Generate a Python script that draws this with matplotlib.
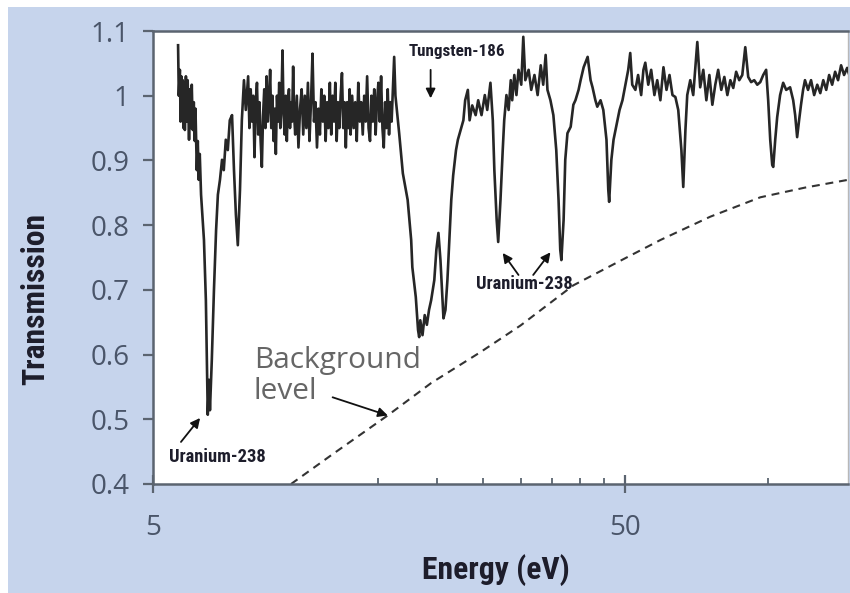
import os
import matplotlib
matplotlib.use('Agg')
import matplotlib.pyplot as plt
from matplotlib import font_manager as fm
from matplotlib.font_manager import FontProperties
from matplotlib.ticker import FixedLocator, FixedFormatter, NullFormatter
from matplotlib.patches import Rectangle

# ---------------- data ----------------
# first U-238 resonance region (~6.5 eV)
first_dip_energy = [
    5.65, 5.67, 5.70, 5.72, 5.74, 5.76, 5.78, 5.80, 5.82, 5.84, 5.87, 5.90, 5.92, 5.94,
    5.96, 5.99, 6.02, 6.04, 6.07, 6.10, 6.13, 6.15, 6.19, 6.22, 6.25, 6.28, 6.32, 6.41,
    6.47, 6.50, 6.53, 6.57, 6.60, 6.66, 6.73, 6.80, 6.86, 6.93, 7.00, 7.06, 7.13, 7.20,
    7.27, 7.35, 7.42, 7.49, 7.56, 7.64, 7.71, 7.79, 7.86,
]
first_dip_trans = [
    1.078, 1.000, 1.040, 0.960, 1.030, 0.978, 1.024, 0.950, 1.020, 0.947, 1.030, 0.960,
    1.024, 0.980, 0.932, 1.010, 0.950, 1.017, 0.947, 0.990, 0.930, 0.980, 0.885, 0.930,
    0.870, 0.910, 0.847, 0.777, 0.684, 0.592, 0.507, 0.561, 0.514, 0.592, 0.700, 0.792,
    0.847, 0.870, 0.901, 0.885, 0.932, 0.916, 0.962, 0.970, 0.885, 0.816, 0.769, 0.854,
    0.962, 1.024, 0.978,
]
# noisy plateau (8 - 16 eV)
plateau_energy = [
    7.95, 8.00, 8.05, 8.10, 8.15, 8.20, 8.25, 8.30, 8.35, 8.40, 8.45, 8.50, 8.55, 8.60,
    8.65, 8.70, 8.75, 8.80, 8.85, 8.90, 8.95, 9.00, 9.05, 9.10, 9.15, 9.20, 9.25, 9.30,
    9.35, 9.40, 9.45, 9.50, 9.55, 9.60, 9.65, 9.70, 9.75, 9.80, 9.85, 9.90, 9.95, 10.00,
    10.08, 10.16, 10.24, 10.32, 10.40, 10.48, 10.56, 10.64, 10.72, 10.80, 10.88, 10.96,
    11.04, 11.12, 11.20, 11.28, 11.36, 11.44, 11.52, 11.60, 11.68, 11.76, 11.84, 11.92,
    12.00, 12.08, 12.16, 12.24, 12.32, 12.40, 12.48, 12.56, 12.64, 12.72, 12.80, 12.88,
    12.96, 13.04,
    13.1, 13.2, 13.3, 13.4, 13.5, 13.6, 13.7, 13.8, 13.9, 14.0, 14.1, 14.2, 14.3, 14.4,
    14.5, 14.6, 14.7, 14.8, 14.9, 15.0, 15.1, 15.2, 15.3, 15.4, 15.5, 15.6, 15.7, 15.8,
    15.9, 16.0, 16.1, 16.2, 16.3,
]
plateau_trans = [
    1.03, 0.95, 1.01, 0.96, 1.00, 0.905, 0.99, 1.02, 0.94, 0.99, 0.93, 0.89, 0.97, 1.01,
    0.95, 1.03, 0.96, 0.99, 1.04, 0.95, 1.00, 0.93, 0.98, 0.91, 1.00, 0.96, 1.02, 0.95,
    0.99, 1.07, 0.97, 0.94, 1.00, 0.93, 0.99, 1.01, 0.95, 0.99, 0.96, 1.045, 0.97, 0.94,
    1.00, 0.92, 0.98, 1.01, 0.94, 1.00, 0.95, 1.02, 0.93, 0.99, 1.065, 0.96,
    0.99, 0.92, 0.98, 0.94, 1.01, 0.96, 1.00, 0.93, 0.99, 0.95, 1.02, 0.94,
    1.00, 0.96, 1.02, 0.93, 0.99, 0.95, 1.00, 1.035, 0.95, 0.99, 0.92, 0.99,
    0.95, 1.01,
    0.94, 1.00, 0.95, 0.99, 0.93, 1.02, 0.96, 0.99, 0.94, 1.00, 0.96, 1.03, 0.95, 0.93,
    1.00, 0.96, 1.01, 0.94, 0.99, 1.02, 0.96, 1.03, 0.95, 0.92, 0.99, 0.95, 1.01, 0.94,
    0.99, 0.96, 1.01, 1.06, 1.00,
]
# W-186 resonance and upper region (16.6 - 148 eV)
upper_energy = [
    16.6, 16.9, 17.3, 17.6, 17.7, 18.0, 18.2, 18.3, 18.4, 18.6, 18.8, 19.0, 19.2, 19.4,
    19.7, 19.9, 20.1, 20.3, 20.5, 20.6, 20.8, 21.0, 21.2, 21.4, 21.6, 21.9, 22.1, 22.4,
    22.7, 22.9, 23.2, 23.4, 23.7, 24.1, 24.4, 24.8, 25.2, 25.5, 25.9, 26.2, 26.4, 26.7,
    26.9, 27.2, 27.5, 27.7, 28.0, 28.3, 28.6, 28.8, 29.1, 29.4, 29.7, 30.1, 30.4, 30.7,
    31.2, 31.6, 32.1, 32.6, 33.1, 33.5, 33.9, 34.2, 34.7, 35.2, 35.7, 36.1, 36.4, 36.6,
    37.0, 37.3, 37.7, 38.3, 38.8, 39.2, 39.8, 40.2, 40.8, 41.6, 42.2, 42.6, 43.2, 43.6,
    44.3, 44.9, 45.6, 46.0, 46.2, 46.7, 47.2, 47.9, 48.6, 49.3, 50.0, 50.7, 51.2, 51.7,
    52.5, 53.2, 54.0, 54.6, 55.1, 55.9, 56.7, 57.6, 58.4, 59.3, 60.2, 61.1, 62.0, 62.9,
    63.8, 64.7, 65.7, 66.3, 67.0, 67.6, 68.6, 69.6, 71.0, 72.0, 73.1, 74.2, 75.3, 76.4,
    77.5, 78.6, 79.8, 81.0, 82.2, 83.4, 84.6, 85.8, 87.1, 88.4, 89.7, 91.0, 92.3, 93.7,
    95.1, 96.5, 97.9, 99.3, 100.3, 101.3, 102.3, 102.8, 103.8, 104.8, 106.3, 107.9,
    109.5, 111.6, 113.3, 114.4, 115.5, 116.6, 117.7, 118.9, 120.0, 121.8, 123.6, 125.5,
    127.4, 129.3, 131.2, 133.1, 135.0, 137.0, 139.0, 141.0, 143.1, 145.2, 147.4, 148.5,
]
upper_trans = [
    0.942, 0.880, 0.839, 0.777, 0.735, 0.689, 0.638, 0.627, 0.653, 0.630, 0.661, 0.646,
    0.669, 0.684, 0.715, 0.762, 0.788, 0.746, 0.684, 0.656, 0.669, 0.715, 0.777, 0.839,
    0.877, 0.916, 0.932, 0.947, 0.962, 0.993, 1.009, 0.962, 0.985, 0.970, 0.993, 0.970,
    1.001, 0.978, 1.020, 0.962, 0.885, 0.808, 0.774, 0.839, 0.916, 0.962, 1.001, 0.978,
    1.024, 0.993, 1.032, 1.001, 1.040, 1.017, 1.091, 1.024, 1.040, 1.009, 1.032, 1.001,
    1.047, 1.017, 1.063, 1.009, 0.993, 0.970, 0.916, 0.839, 0.762, 0.746, 0.808, 0.901,
    0.942, 0.952, 0.986, 0.993, 1.009, 1.024, 1.044, 1.060, 1.024, 1.013, 0.993, 0.983,
    0.993, 0.978, 0.932, 0.855, 0.836, 0.901, 0.932, 0.955, 0.978, 0.993, 1.017, 1.040,
    1.066, 1.017, 1.009, 1.032, 1.001, 1.040, 1.051, 1.017, 1.040, 1.001, 1.024, 0.993,
    1.044, 1.009, 1.032, 1.001, 0.998, 0.978, 0.916, 0.859, 0.947, 1.001, 1.024, 1.001,
    1.083, 1.013, 1.040, 0.993, 1.032, 0.986, 1.017, 1.040, 1.009, 1.029, 1.001, 1.024,
    1.012, 1.037, 1.024, 1.032, 1.075, 1.029, 1.021, 1.024, 1.017, 1.021, 1.032, 1.040,
    0.993, 0.932, 0.893, 0.890, 0.932, 0.967, 1.001, 1.020, 1.009, 1.013, 0.993, 0.970,
    0.936, 0.962, 0.986, 1.009, 1.024, 1.009, 1.024, 1.001, 1.017, 1.004, 1.024, 1.009,
    1.032, 1.017, 1.037, 1.024, 1.047, 1.032, 1.043, 1.035,
]

bg_energy = [9.8, 12.0, 15.7, 19.4, 24.7, 30.0, 38.8, 50.0, 59.3, 75.6, 96.5, 120.0, 148.0]
bg_transmission = [0.40, 0.446, 0.506, 0.556, 0.604, 0.645, 0.707, 0.749, 0.777, 0.813,
                   0.843, 0.858, 0.870]

x_major_ticks = [5, 50]
x_major_labels = ['5', '50']
x_minor_ticks = [15, 20, 25, 30, 35, 40, 45, 100]
y_ticks = [0.4, 0.5, 0.6, 0.7, 0.8, 0.9, 1.0, 1.1]
y_tick_labels = ['0.4', '0.5', '0.6', '0.7', '0.8', '0.9', '1', '1.1']

energy = first_dip_energy + plateau_energy + upper_energy
transmission = first_dip_trans + plateau_trans + upper_trans

# ---------------- fonts ----------------
names = {f.name for f in fm.fontManager.ttflist}
BODY = 'Open Sans' if 'Open Sans' in names else 'DejaVu Sans'


def condensed_font():
    files = {}
    for f in fm.fontManager.ttflist:
        base = os.path.basename(f.fname).lower().rsplit('.', 1)[0]
        files[base] = f.fname
    prefs = ['notosans-extracondensedbold', 'notosans-condensedbold',
             'robotocondensed-bold', 'liberationsansnarrow-bold',
             'dejavusanscondensed-bold', 'opensans-condensedbold',
             'notosans-semicondensedbold']
    for p in prefs:
        if p in files:
            return FontProperties(fname=files[p])
    for base, path in sorted(files.items()):
        if ('condensed' in base or 'narrow' in base) and 'bold' in base \
                and 'italic' not in base and 'semibold' not in base \
                and 'extrabold' not in base:
            return FontProperties(fname=path)
    return FontProperties(family='DejaVu Sans', weight='bold')


COND = condensed_font()

BG_BLUE = '#c6d4ec'
TICK_COL = '#4a5569'
SPINE_COL = '#5b6470'
INK = '#1d1d2b'

fig = plt.figure(figsize=(8.5, 5.93), dpi=100, facecolor='white')
fig.patches.append(Rectangle((8 / 850, 0), 1 - 8 / 850, 586 / 593, transform=fig.transFigure,
                             facecolor=BG_BLUE, edgecolor='none', zorder=-10))

ax = fig.add_axes([153 / 850, 109 / 593, 695 / 850, 453 / 593])
ax.set_facecolor('white')
ax.set_xscale('log')
ax.set_xlim(5, 148)
ax.set_ylim(0.4, 1.1)

ax.plot(energy, transmission, color='#262626', lw=1.9, solid_joinstyle='round', zorder=3)
ax.plot(bg_energy, bg_transmission, color='#333333', lw=1.5, dashes=(3.8, 2.8), zorder=2)

# ticks
ax.xaxis.set_major_locator(FixedLocator(x_major_ticks))
ax.xaxis.set_major_formatter(FixedFormatter(x_major_labels))
ax.xaxis.set_minor_locator(FixedLocator(x_minor_ticks))
ax.xaxis.set_minor_formatter(NullFormatter())
ax.set_yticks(y_ticks)
ax.set_yticklabels(y_tick_labels)
ax.yaxis.set_minor_locator(FixedLocator([]))

ax.tick_params(axis='x', which='major', direction='inout', length=13, width=1.6,
               color=SPINE_COL, labelsize=20, labelcolor=TICK_COL, pad=15)
ax.tick_params(axis='x', which='minor', direction='in', length=4.5, width=1.3,
               color=SPINE_COL)
ax.tick_params(axis='y', which='major', direction='out', length=7, width=1.6,
               color=SPINE_COL, labelsize=20, labelcolor=TICK_COL, pad=10)
for lab in ax.get_xticklabels() + ax.get_yticklabels():
    lab.set_family(BODY)

for side in ['left', 'bottom', 'top']:
    ax.spines[side].set_color(SPINE_COL)
    ax.spines[side].set_linewidth(1.8)
ax.spines['right'].set_color('#b8b8b8')
ax.spines['right'].set_linewidth(1.0)

# axis labels
xl = ax.set_xlabel('Energy (eV)', fontproperties=COND, color=INK)
xl.set_fontsize(26)
ax.xaxis.set_label_coords(0.4935, -0.19)
xl.set_va('center')
yl = ax.set_ylabel('Transmission', fontproperties=COND, color=INK)
yl.set_fontsize(26)
ax.yaxis.set_label_coords(-0.170, 0.408)
yl.set_va('center')

# annotations
arrow_kw = dict(arrowstyle='-|>', color='#111111', lw=1.3, mutation_scale=14,
                shrinkA=0, shrinkB=0)
t_w = ax.text(21.96, 1.069, 'Tungsten-186', ha='center', va='center',
              fontproperties=COND, color=INK)
ax.annotate('', xy=(19.35, 0.996), xytext=(19.35, 1.040), arrowprops=arrow_kw)

t_u1 = ax.text(30.6, 0.709, 'Uranium-238', ha='center', va='center',
               fontproperties=COND, color=INK)
ax.annotate('', xy=(27.5, 0.757), xytext=(29.7, 0.723), arrowprops=arrow_kw)
ax.annotate('', xy=(34.7, 0.758), xytext=(31.9, 0.723), arrowprops=arrow_kw)

t_u2 = ax.text(6.83, 0.442, 'Uranium-238', ha='center', va='center',
               fontproperties=COND, color=INK)
ax.annotate('', xy=(6.29, 0.502), xytext=(5.73, 0.465), arrowprops=arrow_kw)

ax.text(8.18, 0.614, 'Background\nlevel', ha='left', va='top', fontsize=21.5,
        color='#666666', family=BODY, linespacing=1.12)
ax.annotate('', xy=(15.7, 0.506), xytext=(12.0, 0.534), arrowprops=arrow_kw)

# size the condensed texts so their extents match the reference
for t in (t_w, t_u1, t_u2):
    t.set_fontsize(14)
fig.canvas.draw()
renderer = fig.canvas.get_renderer()
targets = [(xl, 148, 'w'), (yl, 172, 'h'), (t_w, 97, 'w'), (t_u1, 97, 'w'), (t_u2, 97, 'w')]
for txt, target, dim in targets:
    bb = txt.get_window_extent(renderer)
    cur = bb.width if dim == 'w' else bb.height
    if cur > 0:
        txt.set_fontsize(txt.get_fontsize() * target / cur)

fig.savefig('out.png', dpi=100, facecolor=fig.get_facecolor())
